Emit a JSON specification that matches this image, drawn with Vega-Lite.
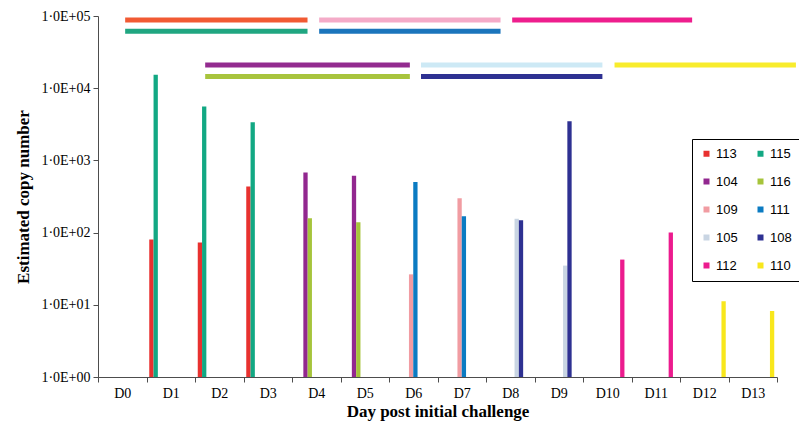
{
  "$schema": "https://vega.github.io/schema/vega-lite/v6.json",
  "width": 679,
  "height": 361,
  "autosize": {"type": "none"},
  "padding": {"left": 98, "top": 16, "right": 22, "bottom": 45},
  "background": "white",
  "config": {
    "font": "Liberation Serif",
    "view": {"stroke": null},
    "axis": {"grid": false, "domainColor": "#4d4d4d", "tickColor": "#4d4d4d", "labelColor": "#000000", "titleColor": "#000000", "labelFont": "Liberation Serif", "titleFont": "Liberation Serif", "labelFontSize": 14, "titleFontSize": 17, "titleFontWeight": "bold"}
  },
  "layer": [
    {
      "data": {
        "values": [
          {"day": "D1", "animal": "113", "value": 80},
          {"day": "D1", "animal": "115", "value": 15400},
          {"day": "D2", "animal": "113", "value": 73},
          {"day": "D2", "animal": "115", "value": 5600},
          {"day": "D3", "animal": "113", "value": 434},
          {"day": "D3", "animal": "115", "value": 3370},
          {"day": "D4", "animal": "104", "value": 678},
          {"day": "D4", "animal": "116", "value": 158},
          {"day": "D5", "animal": "104", "value": 615},
          {"day": "D5", "animal": "116", "value": 139},
          {"day": "D6", "animal": "109", "value": 26.4},
          {"day": "D6", "animal": "111", "value": 502},
          {"day": "D7", "animal": "109", "value": 299},
          {"day": "D7", "animal": "111", "value": 168},
          {"day": "D8", "animal": "105", "value": 156},
          {"day": "D8", "animal": "108", "value": 148},
          {"day": "D9", "animal": "105", "value": 34.9},
          {"day": "D9", "animal": "108", "value": 3480},
          {"day": "D10", "animal": "112", "value": 42.3},
          {"day": "D11", "animal": "112", "value": 100},
          {"day": "D12", "animal": "110", "value": 11.2},
          {"day": "D13", "animal": "110", "value": 8.2}
        ]
      },
      "mark": {"type": "bar"},
      "encoding": {
        "x": {
          "field": "day",
          "type": "nominal",
          "sort": null,
          "scale": {"domain": ["D0","D1","D2","D3","D4","D5","D6","D7","D8","D9","D10","D11","D12","D13"], "paddingInner": 0, "paddingOuter": 0},
          "axis": {"title": "Day post initial challenge", "labelAngle": 0, "tickBand": "extent", "tickSize": 5, "labelPadding": 4, "titlePadding": 3}
        },
        "xOffset": {
          "field": "animal",
          "type": "nominal",
          "scale": {"domain": ["113","115","104","116","109","111","105","108","112","110"], "paddingInner": 0, "paddingOuter": 0.64}
        },
        "y": {
          "field": "value",
          "type": "quantitative",
          "scale": {"type": "log", "domain": [1, 100000], "nice": false},
          "axis": {"title": "Estimated copy number", "values": [1, 10, 100, 1000, 10000, 100000], "labelExpr": "'1·0E+0' + format(round(log(datum.value)/LN10), 'd')", "tickSize": 5, "labelPadding": 3, "titlePadding": 8}
        },
        "y2": {"datum": 1},
        "color": {
          "field": "animal",
          "type": "nominal",
          "scale": {"domain": ["113","115","104","116","109","111","105","108","112","110"], "range": ["#e8312f","#12a883","#92278f","#a6c43b","#f19ca2","#0b7bc2","#c9d5e3","#2e3192","#ec1b8e","#f8e71c"]},
          "legend": {"title": null, "orient": "none", "direction": "horizontal", "legendX": 594, "legendY": 123, "columns": 2, "strokeColor": "#000000", "fillColor": "#ffffff", "padding": 8, "symbolType": "square", "symbolSize": 36, "symbolStrokeWidth": 0, "labelFont": "Liberation Sans", "labelFontSize": 13, "labelOffset": 3, "columnPadding": 16, "rowPadding": 14, "labelColor": "#000000"}
        }
      }
    },
    {
      "data": {
        "values": [
          {"animal": "113", "start": 0.56, "end": 4.32, "level": 88100},
          {"animal": "115", "start": 0.56, "end": 4.32, "level": 61400},
          {"animal": "109", "start": 4.56, "end": 8.30, "level": 88100},
          {"animal": "111", "start": 4.56, "end": 8.30, "level": 61400},
          {"animal": "112", "start": 8.54, "end": 12.25, "level": 88100},
          {"animal": "104", "start": 2.21, "end": 6.43, "level": 20900},
          {"animal": "116", "start": 2.21, "end": 6.43, "level": 14500},
          {"animal": "105", "start": 6.66, "end": 10.40, "level": 20900},
          {"animal": "108", "start": 6.66, "end": 10.40, "level": 14500},
          {"animal": "110", "start": 10.65, "end": 14.39, "level": 20900}
        ]
      },
      "mark": {"type": "rule", "strokeWidth": 5, "strokeCap": "butt"},
      "encoding": {
        "x": {"field": "start", "type": "quantitative", "scale": {"domain": [0, 14], "nice": false, "zero": false}, "axis": null},
        "x2": {"field": "end"},
        "y": {"field": "level", "type": "quantitative", "scale": {"type": "log", "domain": [1, 100000], "nice": false}, "title": "Estimated copy number"},
        "color": {
          "field": "animal",
          "type": "nominal",
          "scale": {"domain": ["113","115","104","116","109","111","105","108","112","110"], "range": ["#f15a33","#20a681","#932b8f","#a8c43d","#f4abc8","#1b75bc","#cde9f5","#2e3192","#ee1e8d","#f8ec2c"]},
          "legend": null
        }
      }
    }
  ],
  "resolve": {"scale": {"x": "independent", "color": "independent", "xOffset": "independent"}, "axis": {"x": "independent"}}
}
